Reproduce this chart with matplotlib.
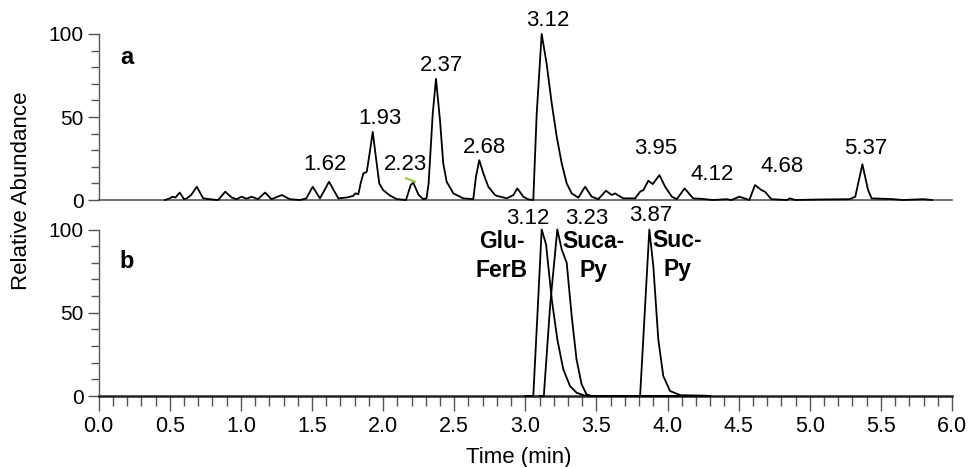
import matplotlib.pyplot as plt
import numpy as np
from matplotlib.ticker import MultipleLocator

plt.rcParams["font.family"] = ["Liberation Sans", "DejaVu Sans"]

# Trace a: total ion chromatogram (time in min, relative abundance %)
t_a = [0.466, 0.50, 0.52, 0.54, 0.57, 0.60, 0.62, 0.65, 0.69, 0.735, 0.80, 0.84,
       0.89, 0.935, 0.97, 1.005, 1.04, 1.076, 1.12, 1.17, 1.215, 1.287, 1.345,
       1.415, 1.46, 1.505, 1.556, 1.62, 1.685, 1.744, 1.79, 1.805, 1.826, 1.842,
       1.861, 1.885, 1.905, 1.927, 1.955, 1.973, 2.0, 2.05, 2.095, 2.161, 2.194,
       2.212, 2.25, 2.283, 2.305, 2.32, 2.349, 2.372, 2.40, 2.423, 2.447, 2.494,
       2.564, 2.634, 2.653, 2.676, 2.705, 2.74, 2.787, 2.80, 2.87, 2.916, 2.944,
       2.986, 3.02, 3.056, 3.08, 3.115, 3.15, 3.186, 3.221, 3.256, 3.291, 3.326,
       3.373, 3.42, 3.467, 3.513, 3.567, 3.608, 3.63, 3.689, 3.772, 3.807, 3.83,
       3.865, 3.896, 3.943, 3.983, 4.03, 4.065, 4.12, 4.18, 4.24, 4.32, 4.415,
       4.45, 4.505, 4.575, 4.615, 4.66, 4.685, 4.73, 4.84, 4.86, 4.90, 5.05,
       5.28, 5.32, 5.37, 5.41, 5.435, 5.59, 5.65, 5.80, 5.86]
i_a = [0, 1, 2, 1.5, 4.5, 0.5, 1, 3, 8, 1, 0.3, 0,
       5, 1.5, 0.5, 2, 0.8, 2, 0.5, 4.5, 0.5, 3, 0.5,
       0, 1, 8, 1, 11, 1, 1.5, 2.5, 4, 3.5, 10,
       16, 17, 28, 41, 22, 10, 6, 2.6, 0.6, 0, 9,
       10.5, 3, 0.5, 1, 10, 52, 73, 48, 22, 11, 4,
       1, 0.5, 14, 24, 16, 8, 3, 2.5, 1, 3, 7,
       2, 0.4, 0, 52, 100, 82, 58, 38, 22, 10, 4,
       1.4, 8, 2, 0.5, 5.6, 3, 4, 1, 1, 5, 6,
       11.6, 9.6, 15, 8, 2, 0.5, 7, 1, 0.7, 0, 0.5,
       0, 2, 0, 9, 6, 5, 0.5, 0, 1, 0, 0.3,
       0.5, 2, 21.5, 6, 1, 0.5, 0, 0.5, 0]

# Trace b: extracted ion chromatograms of the three standards
t_glu = [3.00, 3.056, 3.087, 3.115, 3.146, 3.186, 3.225, 3.267, 3.314, 3.36, 3.408, 3.45, 4.30]
i_glu = [0, 0, 52, 100, 91, 58, 34, 16, 6, 2, 0.5, 0, 0]
t_suca = [3.10, 3.13, 3.175, 3.225, 3.256, 3.291, 3.326, 3.36, 3.396, 3.43, 3.467, 4.30]
i_suca = [0, 0, 55, 100, 88, 80, 48, 22, 7, 1, 0, 0]
t_suc = [3.78, 3.807, 3.872, 3.90, 3.935, 3.97, 4.018, 4.09, 4.27, 4.30]
i_suc = [0, 0, 100, 78, 34, 12, 3, 0.5, 0.2, 0]

peaks_a = ["1.62", "1.93", "2.23", "2.37", "2.68", "3.12", "3.95", "4.12", "4.68", "5.37"]
peaks_b = ["3.12", "3.23", "3.87"]
names_b = ["Glu-\nFerB", "Suca-\nPy", "Suc-\nPy"]

fig = plt.figure(figsize=(9.73, 4.67), dpi=100)
ax_a = fig.add_axes([0.1014, 0.5717, 0.877, 0.3555])
ax_b = fig.add_axes([0.1014, 0.1520, 0.877, 0.3565])

grey = "#555555"
for ax in (ax_a, ax_b):
    ax.set_xlim(0, 6)
    ax.set_ylim(0, 100)
    ax.spines[["top", "right"]].set_visible(False)
    ax.spines["left"].set_color(grey)
    ax.spines["left"].set_linewidth(1.0)
    ax.set_yticks([0, 50, 100])
    ax.yaxis.set_minor_locator(MultipleLocator(10))
    ax.tick_params(axis="y", which="major", length=8, width=1.0, color=grey,
                   labelsize=15, pad=3)
    ax.tick_params(axis="y", which="minor", length=5.5, width=1.0, color=grey)
    ax.patch.set_alpha(0)

ax_a.spines["bottom"].set_color(grey)
ax_a.spines["bottom"].set_linewidth(1.2)
ax_a.tick_params(axis="x", which="both", bottom=False, labelbottom=False)

ax_b.spines["bottom"].set_color("#222222")
ax_b.spines["bottom"].set_linewidth(1.8)
ax_b.set_xticks(np.arange(0, 6.01, 0.5))
ax_b.xaxis.set_minor_locator(MultipleLocator(0.1))
ax_b.tick_params(axis="x", which="major", length=10.5, width=1.0, color=grey,
                 labelsize=15.5, pad=4)
ax_b.tick_params(axis="x", which="minor", length=7, width=1.0, color=grey)

lw = 1.3
ax_a.plot(t_a, i_a, color="black", lw=lw, clip_on=False, zorder=3)
for t, i in [(t_glu, i_glu), (t_suca, i_suca), (t_suc, i_suc)]:
    ax_b.plot(t, i, color="black", lw=lw, clip_on=False, zorder=3)

# small green mark near the 2.23 peak
ax_a.plot([2.161, 2.224], [13.1, 11.0], color="#8cc63e", lw=1.5, zorder=4)

# peak labels (text centre in data units)
pos_a = [(1.592, 21.1), (1.978, 49.4), (2.154, 21.1), (2.414, 81.3), (2.713, 31.6),
         (3.160, 108), (3.919, 31.3), (4.313, 15.1), (4.805, 19.9), (5.396, 31.3)]
for lab, (x, y) in zip(peaks_a, pos_a):
    ax_a.text(x, y, lab, ha="center", va="center", fontsize=16, clip_on=False)

pos_b = [(3.014, 106.7), (3.432, 106.7), (3.882, 108.7)]
for lab, (x, y) in zip(peaks_b, pos_b):
    ax_b.text(x, y, lab, ha="center", va="center", fontsize=16, clip_on=False)

pos_names = [(2.834, 84.2), (3.48, 84.2), (4.07, 84.7)]
for lab, (x, y) in zip(names_b, pos_names):
    ax_b.text(x, y, lab, ha="center", va="center", fontsize=16.5,
              fontweight="bold", linespacing=1.33)

ax_a.text(0.197, 86, "a", ha="center", va="center", fontsize=17, fontweight="bold")
ax_b.text(0.20, 81, "b", ha="center", va="center", fontsize=17, fontweight="bold")

fig.text(0.0226, 0.591, "Relative Abundance", rotation=90, ha="center",
         va="center", fontsize=16)
ax_b.set_xlabel("Time (min)", fontsize=16)
ax_b.xaxis.set_label_coords(0.492, -0.305)

fig.savefig("out.png", dpi=100)
